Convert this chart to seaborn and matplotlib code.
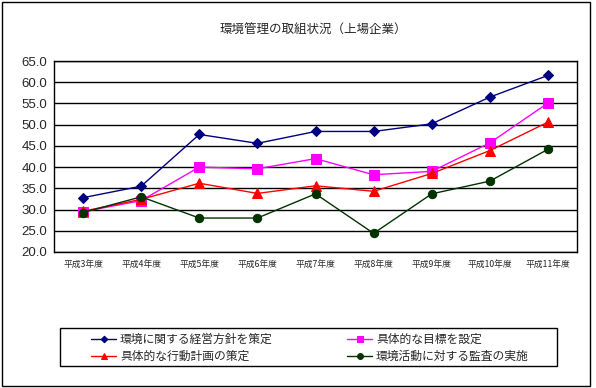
import pandas as pd
import matplotlib
matplotlib.use("Agg")
import matplotlib.pyplot as plt
import seaborn as sns
import numpy as np
from matplotlib.patches import Rectangle

# Data
years = ["平成3年度", "平成4年度", "平成5年度", "平成6年度", "平成7年度",
         "平成8年度", "平成9年度", "平成10年度", "平成11年度"]
policy = [32.8, 35.5, 47.7, 45.6, 48.4, 48.4, 50.2, 56.5, 61.6]
targets = [29.5, 32.1, 40.0, 39.6, 42.0, 38.2, 39.0, 45.7, 55.1]
action_plan = [29.6, 32.4, 36.2, 33.8, 35.6, 34.3, 38.5, 43.9, 50.6]
audit = [29.3, 33.0, 28.0, 28.0, 33.7, 24.4, 33.7, 36.7, 44.2]
y_ticks = np.arange(20, 65.1, 5)

series = [
    ("環境に関する経営方針を策定", policy, "#000080", "D", 4.8),
    ("具体的な目標を設定", targets, "#FF00FF", "s", 6.5),
    ("具体的な行動計画の策定", action_plan, "#FF0000", "^", 7.0),
    ("環境活動に対する監査の実施", audit, "#003300", "o", 6.0),
]

sns.set_style("white")
jp = ["Noto Sans CJK JP", "DejaVu Sans"]
plt.rcParams["font.family"] = jp

W, H = 596, 388
fig = plt.figure(figsize=(W / 100, H / 100), dpi=100)
ax = fig.add_axes([54 / W, 1 - 252 / H, 523 / W, 191 / H])

x = np.arange(len(years))
handles = {}
for name, vals, color, marker, ms in series:
    df = pd.DataFrame({"x": x, "v": vals})
    sns.lineplot(data=df, x="x", y="v", ax=ax, color=color, marker=marker,
                 markersize=ms, markeredgecolor=color, linewidth=1.0, label=name)
for line in ax.get_lines():
    handles[line.get_label()] = line

ax.set_xlim(-0.5, len(years) - 0.5)
ax.set_ylim(20, 65)
ax.set_yticks(y_ticks)
ax.set_yticklabels([f"{v:.1f}" for v in y_ticks], family="Liberation Sans", fontsize=9.5)
ax.set_xticks(x)
ax.set_xticklabels(years, fontsize=6.3)
ax.set_xticks(np.arange(-0.5, len(years), 1)[1:-1], minor=True)
ax.tick_params(axis="x", which="major", length=0, pad=6)
ax.tick_params(axis="x", which="minor", length=4, width=1, direction="out", color="black")
ax.tick_params(axis="y", length=0, pad=5)
ax.set_xlabel("")
ax.set_ylabel("")
ax.grid(axis="y", color="black", linewidth=1)
for s in ax.spines.values():
    s.set_color("black")
    s.set_linewidth(1)
ax.get_legend().remove()

fig.text(313 / W, 1 - 30 / H, "環境管理の取組状況（上場企業）", ha="center", va="center", fontsize=9)

# legend box drawn separately, entries centred inside it
fig.patches.append(Rectangle((60 / W, 1 - 366 / H), 497 / W, 38 / H,
                             transform=fig.transFigure, fill=False,
                             edgecolor="black", linewidth=1))
order = [series[0][0], series[2][0], series[1][0], series[3][0]]
fig.legend([handles[n] for n in order], order, ncol=2, loc="center",
           bbox_to_anchor=(310 / W, 1 - 348 / H), fontsize=8.5, frameon=False,
           handlelength=2.1, handletextpad=0.35, borderpad=0,
           labelspacing=0.35, columnspacing=6.3, markerscale=0.7)

fig.patches.append(Rectangle((1.5 / W, 1 - 385.5 / H), 588.5 / W, 384 / H,
                             transform=fig.transFigure, fill=False,
                             edgecolor="black", linewidth=1))

fig.savefig("out.png", dpi=100)
